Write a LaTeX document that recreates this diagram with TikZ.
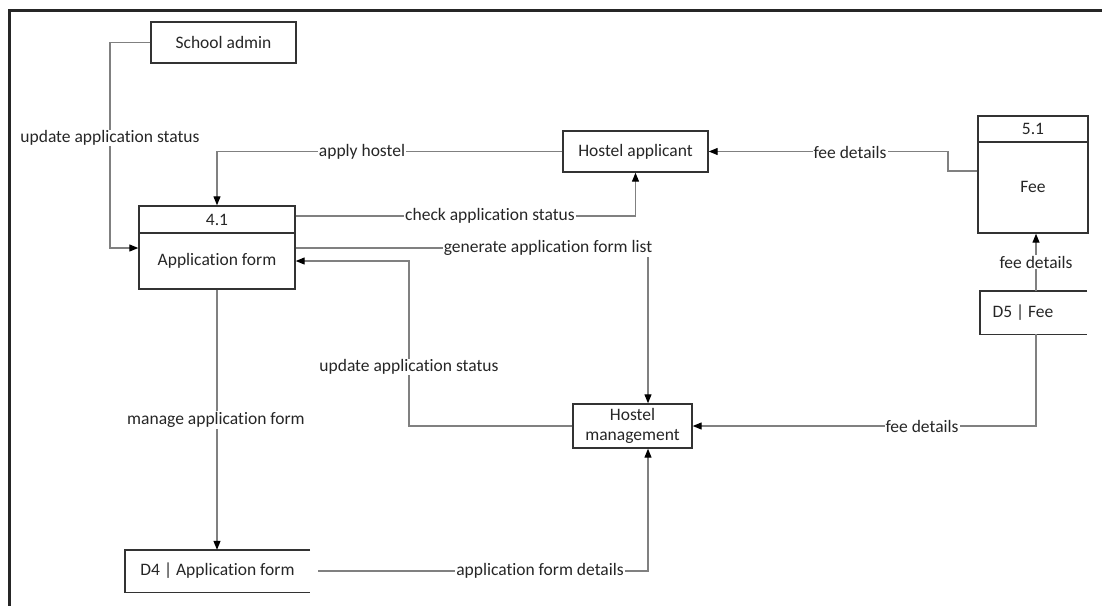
\documentclass[tikz,border=0pt]{standalone}
\usepackage{fontspec}
\setmainfont[Ligatures=NoCommon]{Carlito}
\usetikzlibrary{arrows.meta}
\begin{document}
\begin{tikzpicture}[x=1pt,y=-1pt,
  font=\fontsize{17.5}{20}\selectfont,
  box/.style={draw=black!80, line width=1.4pt, inner sep=0pt, text=black!85},
  boxline/.style={draw=black!80, line width=1.4pt},
  txt/.style={inner sep=0pt, text=black!85},
  flow/.style={draw=black!50, line width=1.2pt, -{Triangle[length=9pt,width=7pt,color=black]}},
  lab/.style={fill=white, inner sep=1pt, text=black!85}]
\useasboundingbox (0,0) rectangle (1102,605);
\draw[line width=3pt, black!85] (9.5,607) -- (9.5,10.5) -- (1104,10.5);

% nodes
\node[box, minimum width=145pt, minimum height=41pt] (admin) at (223.5,42.5) {School admin};
\node[box, minimum width=156pt, minimum height=83pt] (af) at (217,247.5) {};
\draw[boxline] (af.west |- 0,233) -- (af.east |- 0,233);
\node[txt] (afid) at (217,220) {4.1};
\node[txt] (afn) at (217,261) {Application form};

\node[box, minimum width=145pt, minimum height=41pt] (ha) at (635.5,151.5) {Hostel applicant};

\node[box, minimum width=110pt, minimum height=117pt] (fee) at (1033,174.5) {};
\draw[boxline] (fee.west |- 0,142) -- (fee.east |- 0,142);
\node[txt] (feeid) at (1033,129) {5.1};
\node[txt] (feen) at (1033,187) {Fee};

\node[inner sep=0pt, minimum width=107pt, minimum height=43pt] (d5) at (1033.5,312.5) {};
\draw[boxline] (d5.north east) -- (d5.north west) -- (d5.south west) -- (d5.south east);
\node[txt] (d5t) at (1023,313) {D5 | Fee};

\node[box, minimum width=119pt, minimum height=44pt, align=center] (hm) at (632.5,426) {Hostel\\management};

\node[inner sep=0pt, minimum width=185pt, minimum height=42pt, text=black!85] (d4) at (217.5,571) {D4 | Application form};
\draw[boxline] (d4.north east) -- (d4.north west) -- (d4.south west) -- (d4.south east);

% connectors
\draw[flow] (admin.west) -- (admin.west -| 110,0) |- (af.west |- 0,248);
\draw[flow] (ha.west) -| (af.north);
\draw[flow] (af.east |- 0,216) -| (ha.south);
\draw[flow] (af.east |- 0,248) -| (hm.north -| 648,0);
\draw[flow] (hm.west) -- (hm.west -| 409,0) |- (af.east |- 0,261);
\draw[flow] (af.south) -- (af.south |- d4.north);
\draw[flow] (d4.east -| 318,0) -| (hm.south -| 648,0);
\draw[flow] (fee.west |- 0,171) -- (948,171) |- (ha.east);
\draw[flow] (d5.north -| 1036,0) -- (fee.south -| 1036,0);
\draw[flow] (d5.south -| 1036,0) |- (hm.east);

% labels
\node[lab] (l1) at (110,138) {update application status};
\node[lab] (l2) at (362,152) {apply hostel};
\node[lab] (l3) at (490,216) {check application status};
\node[lab] (l4) at (548,248) {generate application form list};
\node[lab] (l5) at (409,367) {update application status};
\node[lab] (l6) at (216,420) {manage application form};
\node[lab] (l7) at (540,571) {application form details};
\node[lab] (l8) at (850,152) {fee details};
\node[lab] (l9) at (1036,262) {fee details};
\node[lab] (l10) at (922,426) {fee details};
\end{tikzpicture}
\end{document}
